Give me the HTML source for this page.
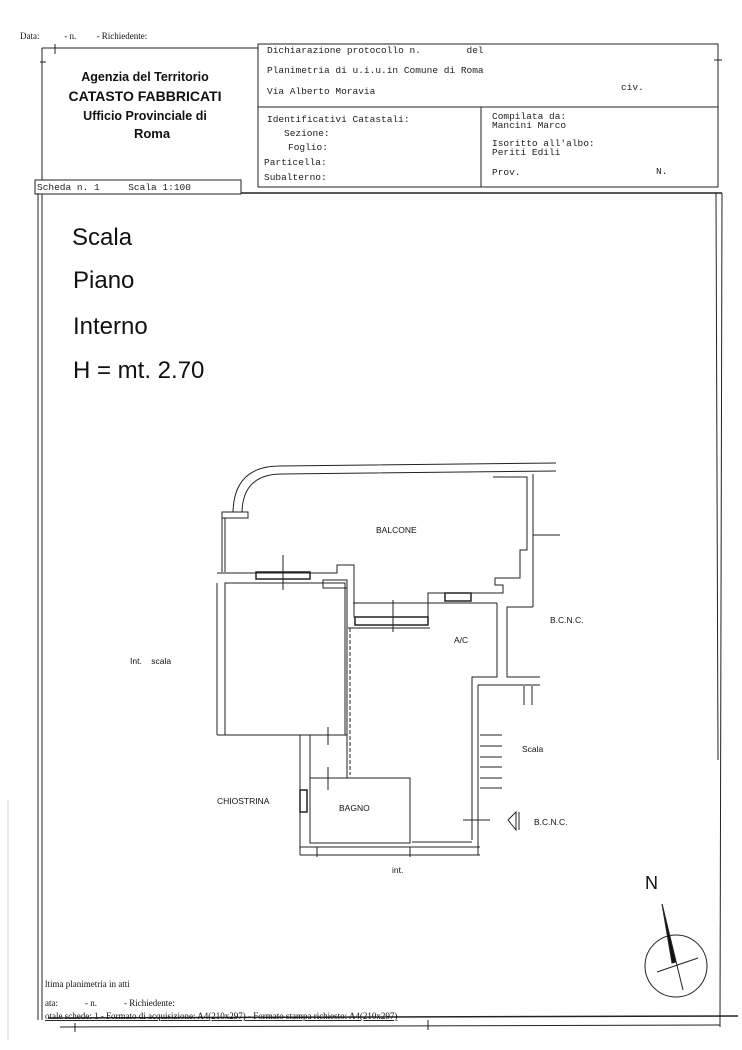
<!DOCTYPE html>
<html><head><meta charset="utf-8"><style>
body{margin:0;background:#fff}
svg{display:block}
text{white-space:pre}
.m{font-family:"Liberation Mono",monospace;font-size:9.5px;fill:#222}
.s{font-family:"Liberation Sans",sans-serif;fill:#111}
.t{font-family:"Liberation Serif",serif;font-size:9px;fill:#111}
</style></head><body>
<svg width="742" height="1050" viewBox="0 0 742 1050" xmlns="http://www.w3.org/2000/svg" xml:space="preserve">
<g stroke="#222" fill="none" stroke-width="1">
<line x1="42" y1="48" x2="258" y2="48"/>
<line x1="55" y1="44" x2="55" y2="54"/>
<line x1="42" y1="48" x2="42" y2="1020"/>
<line x1="40" y1="62" x2="46" y2="62"/>
<rect x="258" y="44" width="460" height="143"/>
<line x1="258" y1="107" x2="718" y2="107"/>
<line x1="481" y1="107" x2="481" y2="187"/>
<line x1="714" y1="60" x2="722" y2="60"/>
<line x1="38" y1="193" x2="722" y2="193" stroke-width="1.5"/>
<rect x="35" y="180" width="206" height="14" fill="#fff"/>
<line x1="38" y1="193" x2="38" y2="1020"/>
<line x1="722" y1="193" x2="720" y2="1020"/>
<line x1="716" y1="193" x2="718" y2="760"/>
<line x1="48" y1="1018" x2="738" y2="1016" stroke-width="1.5"/>
<line x1="60" y1="1027" x2="720" y2="1025"/>
<line x1="720" y1="1016" x2="720" y2="1027"/>
<line x1="75" y1="1023" x2="75" y2="1032"/>
<line x1="428" y1="1020" x2="428" y2="1030"/>
<line x1="8" y1="800" x2="8" y2="1040" stroke="#ccc"/>
<path d="M233 512 Q234 466 280 466 L556 463"/>
<path d="M242 512 Q243 474 282 474 L556 471"/>
<rect x="222" y="512" width="26" height="6"/>
<line x1="222" y1="518" x2="222" y2="572"/>
<line x1="225" y1="518" x2="225" y2="572"/>
<path d="M217 573 L337 573 L337 565 L354 565 L354 617 L428 617 L428 593 L503 593 L503 585 L495 585 L495 578 L520 578 L520 550 L527 550 L527 477 L493 477"/>
<line x1="533" y1="474" x2="533" y2="607"/>
<line x1="533" y1="535" x2="560" y2="535"/>
<path d="M533 607 L507 607 L507 677 L540 677"/>
<rect x="225" y="583" width="120" height="152"/>
<rect x="323" y="580" width="24" height="8"/>
<rect x="256" y="572" width="54" height="7" stroke-width="1.5"/>
<rect x="355" y="617" width="73" height="8" stroke-width="1.5"/>
<rect x="445" y="593" width="26" height="8" stroke-width="1.5"/>
<line x1="283" y1="555" x2="283" y2="590"/>
<line x1="393" y1="600" x2="393" y2="632"/>
<line x1="217" y1="583" x2="217" y2="735"/>
<line x1="347" y1="585" x2="347" y2="775"/>
<line x1="350" y1="628" x2="350" y2="775" stroke-dasharray="4,2"/>
<path d="M497 603 L497 677 L472 677 L472 840"/>
<line x1="353" y1="603" x2="497" y2="603"/>
<line x1="348" y1="628" x2="430" y2="628"/>
<line x1="478" y1="685" x2="478" y2="855"/>
<line x1="478" y1="685" x2="540" y2="685"/>
<line x1="524" y1="686" x2="524" y2="705"/><line x1="532" y1="686" x2="532" y2="705"/>
<g><line x1="480" y1="735" x2="502" y2="735"/><line x1="480" y1="746" x2="502" y2="746"/><line x1="480" y1="757" x2="502" y2="757"/><line x1="480" y1="767" x2="502" y2="767"/><line x1="480" y1="778" x2="502" y2="778"/><line x1="480" y1="788" x2="502" y2="788"/></g>
<line x1="217" y1="735" x2="300" y2="735"/>
<line x1="300" y1="735" x2="300" y2="855"/>
<rect x="310" y="735" width="37" height="43"/>
<rect x="310" y="778" width="100" height="65"/>
<line x1="412" y1="842" x2="472" y2="842"/>
<rect x="300" y="790" width="7" height="22" stroke-width="1.5"/>
<line x1="328" y1="727" x2="328" y2="745"/>
<line x1="328" y1="767" x2="328" y2="790"/>
<line x1="300" y1="847" x2="480" y2="847"/>
<line x1="300" y1="855" x2="480" y2="855"/>
<line x1="317" y1="847" x2="317" y2="857"/>
<line x1="410" y1="847" x2="410" y2="857"/>
<line x1="463" y1="820" x2="490" y2="820"/>
<path d="M516 812 L508 820 L516 830 Z M516 812 L516 830 M519 812 L519 830"/>
<circle cx="676" cy="966" r="31"/>
<line x1="657" y1="972" x2="698" y2="958"/>
<line x1="662" y1="904" x2="683" y2="990"/>
<path d="M662 904 L676 962 L672 963 Z" fill="#111"/>
</g>
<text class="t" x="20" y="39">Data:           - n.         - Richiedente:</text>
<text class="m" x="267" y="53">Dichiarazione protocollo n.        del</text>
<text class="m" x="267" y="73">Planimetria di u.i.u.in Comune di Roma</text>
<text class="m" x="267" y="94">Via Alberto Moravia</text>
<text class="m" x="621" y="90">civ.</text>
<text class="m" x="267" y="122">Identificativi Catastali:</text>
<text class="m" x="284" y="136">Sezione:</text>
<text class="m" x="288" y="150">Foglio:</text>
<text class="m" x="264" y="165">Particella:</text>
<text class="m" x="264" y="180">Subalterno:</text>
<text class="m" x="492" y="119">Compilata da:</text>
<text class="m" x="492" y="128">Mancini Marco</text>
<text class="m" x="492" y="146">Isoritto all'albo:</text>
<text class="m" x="492" y="155">Periti Edili</text>
<text class="m" x="492" y="175">Prov.</text>
<text class="m" x="656" y="174">N.</text>
<text class="m" x="37" y="190">Scheda n. 1     Scala 1:100</text>
<g class="s" font-weight="bold" text-anchor="middle">
<text x="145" y="81" font-size="12.5">Agenzia del Territorio</text>
<text x="145" y="101" font-size="14">CATASTO FABBRICATI</text>
<text x="145" y="120" font-size="12.5">Ufficio Provinciale di</text>
<text x="152" y="138" font-size="13">Roma</text>
</g>
<g class="s" font-size="24">
<text x="72" y="245">Scala</text>
<text x="73" y="288">Piano</text>
<text x="73" y="334">Interno</text>
<text x="73" y="378">H = mt. 2.70</text>
</g>
<g class="s" font-size="8.5">
<text x="376" y="533">BALCONE</text>
<text x="454" y="643">A/C</text>
<text x="550" y="623">B.C.N.C.</text>
<text x="130" y="664">Int.    scala</text>
<text x="522" y="752">Scala</text>
<text x="217" y="804">CHIOSTRINA</text>
<text x="339" y="811">BAGNO</text>
<text x="534" y="825">B.C.N.C.</text>
<text x="392" y="873">int.</text>
</g>
<text class="s" x="645" y="889" font-size="18">N</text>
<text class="t" x="45" y="987">ltima planimetria in atti</text>
<text class="t" x="45" y="1006">ata:            - n.            - Richiedente:</text>
<text class="t" x="45" y="1019" text-decoration="underline">otale schede: 1 - Formato di acquisizione: A4(210x297) - Formato stampa richiesto: A4(210x297)</text>
</svg>
</body></html>
